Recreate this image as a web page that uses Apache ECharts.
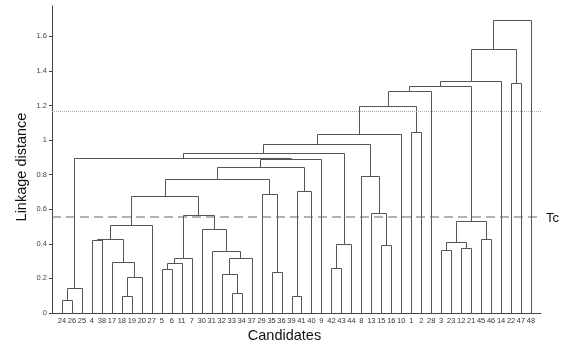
<!DOCTYPE html>
<html>
<head>
<meta charset="utf-8">
<script src="https://cdn.jsdelivr.net/npm/echarts@6/dist/echarts.min.js"></script>
<style>
html,body{margin:0;padding:0;background:#fff;}
#chart{width:574px;height:349px;}
</style>
</head>
<body>
<div id="chart"></div>
<script>
// Leaf order along the x axis (candidate labels)
const leafOrder = [24,26,25,4,38,17,18,19,20,27,5,6,11,7,30,31,32,33,34,37,29,35,36,39,41,40,9,42,43,44,8,13,15,16,10,1,2,28,3,23,12,21,45,46,14,22,47,48];
// Linkage (MATLAB style): leaves are ids 1..48, merge k creates node id 48+k
const mergeLeft   = [24,49,18,51,17, 4,54,55, 5,57,58,33,32,61,31,30,59,56,35,29,66,39,70,69,72,50,42,75,74,15,13, 8,77,81, 1,82,84, 3,12,86,45,88,85,91,22,92,94];
const mergeRight  = [26,25,19,20,52,38,53,27, 6,11, 7,34,60,37,62,63,64,65,36,67,68,41,40,71, 9,73,43,44,76,16,78,79,80,10, 2,83,28,23,21,87,46,89,90,14,47,93,48];
const mergeHeight = [0.075,0.146,0.097,0.206,0.297,0.420,0.428,0.510,0.252,0.289,0.316,0.118,0.227,0.320,0.360,0.484,0.565,0.675,0.239,0.688,0.773,0.098,0.703,0.842,0.888,0.895,0.260,0.397,0.927,0.391,0.576,0.792,0.975,1.033,1.044,1.197,1.281,0.364,0.374,0.409,0.430,0.534,1.310,1.341,1.330,1.524,1.692];
// Axis ticks and reference levels
const yTickValues = [0,0.2,0.4,0.6,0.8,1.0,1.2,1.4,1.6];
const tcLevel = 0.555;
const upperLevel = 1.165;

const nLeaves = leafOrder.length;
const xPos = {}, yPos = {};
leafOrder.forEach((lab, i) => { xPos[lab] = i + 1; yPos[lab] = 0; });
const linkData = [];
for (let k = 0; k < mergeLeft.length; k++) {
  const a = mergeLeft[k], b = mergeRight[k], h = mergeHeight[k];
  const id = nLeaves + 1 + k;
  linkData.push([xPos[a], yPos[a], xPos[b], yPos[b], h]);
  xPos[id] = (xPos[a] + xPos[b]) / 2;
  yPos[id] = h;
}
const xCustom = leafOrder.map((_, i) => i + 1);

const chart = echarts.init(document.getElementById('chart'), null, {renderer: 'canvas'});
const snap = v => Math.round(v) + 0.5;
chart.setOption({
  animation: false,
  backgroundColor: '#fff',
  grid: {left: 52, right: 33, top: 6, bottom: 36, containLabel: false},
  xAxis: {
    type: 'value', min: 0, max: nLeaves + 1,
    splitLine: {show: false},
    axisLine: {show: true, onZero: false, lineStyle: {color: '#444', width: 1}},
    axisTick: {show: false},
    axisLabel: {
      show: true, customValues: xCustom, margin: 4,
      fontFamily: 'Liberation Sans, Arial, sans-serif', fontSize: 7.5, color: '#333',
      formatter: v => String(leafOrder[Math.round(v) - 1] ?? '')
    }
  },
  yAxis: {
    type: 'value', min: 0, max: 1.775,
    splitLine: {show: false},
    axisLine: {show: true, lineStyle: {color: '#444', width: 1}},
    axisTick: {show: true, customValues: yTickValues, length: 3, inside: false, lineStyle: {color: '#444'}},
    axisLabel: {
      show: true, customValues: yTickValues, margin: 5,
      fontFamily: 'Liberation Sans, Arial, sans-serif', fontSize: 7.5, color: '#444',
      formatter: v => String(+(+v).toFixed(1))
    }
  },
  graphic: [
    {type: 'text', x: 21.5, y: 167, rotation: Math.PI / 2,
     style: {text: 'Linkage distance', fontFamily: 'Liberation Sans, Arial, sans-serif', fontSize: 14.5, fill: '#111', align: 'center', verticalAlign: 'middle'}},
    {type: 'text', x: 284.5, y: 335.5,
     style: {text: 'Candidates', fontFamily: 'Liberation Sans, Arial, sans-serif', fontSize: 14.5, fill: '#111', align: 'center', verticalAlign: 'middle'}},
    {type: 'text', x: 546, y: 218,
     style: {text: 'Tc', fontFamily: 'Liberation Sans, Arial, sans-serif', fontSize: 13, fill: '#111', align: 'left', verticalAlign: 'middle'}}
  ],
  series: [
    {
      type: 'custom',
      data: linkData,
      encode: {x: [0, 2], y: [1, 3, 4]},
      clip: false,
      renderItem: (params, api) => {
        const xa = api.value(0), ya = api.value(1), xb = api.value(2), yb = api.value(3), h = api.value(4);
        const p1 = api.coord([xa, ya]), p2 = api.coord([xa, h]), p3 = api.coord([xb, h]), p4 = api.coord([xb, yb]);
        const pts = [p1, p2, p3, p4].map(p => [snap(p[0]), snap(p[1])]);
        return {type: 'polyline', shape: {points: pts}, style: {stroke: '#555', lineWidth: 1, fill: null}};
      }
    },
    {
      type: 'line', clip: false, showSymbol: false, silent: true,
      data: [[0, tcLevel], [nLeaves + 1.2, tcLevel]],
      lineStyle: {color: '#666', width: 1, type: [9, 5]}
    },
    {
      type: 'line', clip: false, showSymbol: false, silent: true,
      data: [[0, upperLevel], [nLeaves + 1, upperLevel]],
      lineStyle: {color: '#aaa', width: 1, type: [1, 1]}
    }
  ]
});
</script>
</body>
</html>
